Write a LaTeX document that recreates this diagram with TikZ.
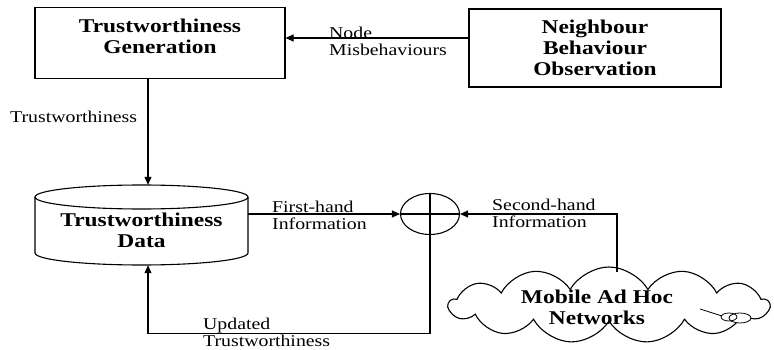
\documentclass[tikz,border=0pt]{standalone}
\usepackage{fontspec}
\setmainfont[FakeStretch=1.2]{Liberation Serif}
\usetikzlibrary{shapes.geometric,shapes.symbols,arrows.meta,calc}
\begin{document}
\begin{tikzpicture}[x=1pt,y=-1pt,
  box/.style={draw,line width=1.1pt,inner sep=0pt},
  btxt/.style={font=\fontsize{19.5}{21}\selectfont\bfseries,align=center,inner sep=0pt},
  lbl/.style={font=\fontsize{16.5}{17}\selectfont,align=left,inner sep=0pt,anchor=west},
  arr/.style={line width=1.1pt,-{Triangle[length=8pt,width=7pt]}},
  ln/.style={line width=1.1pt}]
\useasboundingbox (0,0) rectangle (774,350);
\node[box,minimum width=250,minimum height=71] (tg) at (160,43) {};
\node[btxt] (tgt) at (160,36) {Trustworthiness\\Generation};
\node[box,minimum width=252,minimum height=78] (nbo) at (595,48) {};
\node[btxt,text depth=0pt] (nbot) at (595,48) {Neighbour\\Behaviour\\Observation};
\node[minimum width=213,minimum height=80,inner sep=0pt] (cyl) at (141.5,225) {};
\node[btxt] (cylt) at (141.5,230) {Trustworthiness\\Data};
\draw[ln] (35,197) -- (35,253) arc[start angle=180,end angle=360,x radius=106.5,y radius=-12] -- (248,197);
\draw[ln] (141.5,197) ellipse[x radius=106.5,y radius=12];
\node[draw,ellipse,line width=1.1pt,minimum width=59,minimum height=41,inner sep=0pt] (sum) at (430,214) {};
\draw[ln] (sum.north) -- (sum.south);
\draw[ln] (sum.west) -- (sum.east);
\node[draw,cloud,cloud puffs=13,cloud puff arc=120,aspect=4,line width=1.1pt,minimum width=320,minimum height=76,inner sep=0pt] (cloud) at (609,305) {};
\node[btxt] (cloudtxt) at (597,307) {Mobile Ad Hoc\\Networks};
\draw[line width=0.8pt,fill=white] (740,318) ellipse[x radius=11,y radius=5];
\draw[line width=0.8pt] (729,317) ellipse[x radius=8,y radius=4];
\draw[line width=0.8pt] (700,309) -- (722,316);
\coordinate (ctop) at (617,272);
\draw[arr] (nbo.west |- 0,38) -- (tg.east |- 0,38);
\draw[arr] (tg.south -| 148,0) -- (cyl.north -| 148,0);
\draw[arr] (cyl.east |- sum.west) -- (sum.west);
\draw[arr] (ctop) |- (sum.east);
\draw[arr] (sum.south) -- ++(0,98) -| (cyl.south -| 148,0);
\node[lbl] (l1) at (329,41) {Node\\Misbehaviours};
\node[lbl] (l2) at (10,117) {Trustworthiness};
\node[lbl] (l3) at (272,215) {First-hand\\Information};
\node[lbl] (l4) at (492,213) {Second-hand\\Information};
\node[lbl] (l5) at (203,332) {Updated\\Trustworthiness};
\end{tikzpicture}
\end{document}
